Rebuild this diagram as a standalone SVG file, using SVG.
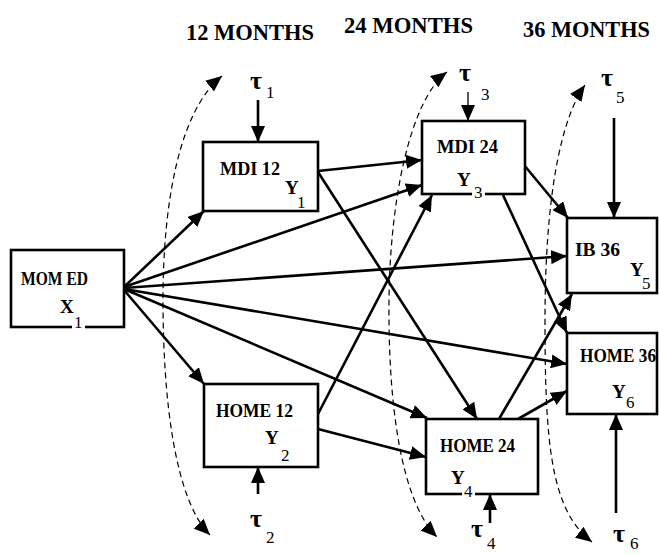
<svg xmlns="http://www.w3.org/2000/svg" width="659" height="555" viewBox="0 0 659 555">
<style>
.box{fill:#fff;stroke:#000;stroke-width:2.6}
.lbl{font-family:"Liberation Serif",serif;font-weight:bold;font-size:18px;fill:#000}
.var{font-family:"Liberation Serif",serif;font-weight:bold;font-size:19px;fill:#000}
.sub{font-family:"Liberation Serif",serif;font-size:17px;fill:#000}
.hd{font-family:"Liberation Serif",serif;font-weight:bold;font-size:23px;fill:#000}
.tau{font-family:"Liberation Serif",serif;font-weight:bold;font-size:26px;fill:#000}
.gap{fill:#fff}
.c{stroke:#000;stroke-width:2.6;fill:none;marker-end:url(#ah)}
.thin{stroke:#000;stroke-width:1.3;fill:none;marker-end:url(#ah)}
.arc{stroke:#000;stroke-width:1.2;fill:none;stroke-dasharray:6 4;marker-start:url(#ah2);marker-end:url(#ah2)}
</style>
<defs>
<marker id="ah" viewBox="0 0 16 14" refX="16" refY="7" markerWidth="16" markerHeight="14" markerUnits="userSpaceOnUse" orient="auto"><path d="M0,0 L16,7 L0,14 z" fill="#000"/></marker>
<marker id="ah2" viewBox="0 0 16 14" refX="16" refY="7" markerWidth="16" markerHeight="14" markerUnits="userSpaceOnUse" orient="auto-start-reverse"><path d="M0,0 L16,7 L0,14 z" fill="#000"/></marker>
</defs>
<rect width="659" height="555" fill="#fff"/>
<g id="headings">
<text class="hd" x="186" y="40" textLength="128" lengthAdjust="spacingAndGlyphs">12 MONTHS</text>
<text class="hd" x="344" y="33" textLength="129" lengthAdjust="spacingAndGlyphs">24 MONTHS</text>
<text class="hd" x="523" y="37" textLength="127" lengthAdjust="spacingAndGlyphs">36 MONTHS</text>
</g>
<g id="connectors">
<path class="arc" d="M222,76 C180,110 163,200 163,300 C163,400 175,500 210,535"/>
<path class="arc" d="M447,72 C410,100 390,200 389,300 C388,400 400,500 437,537"/>
<path class="arc" d="M585,85 C560,120 545,200 545,320 C545,440 550,510 592,542"/>
<line class="c" x1="124" y1="287" x2="204" y2="211"/>
<line class="c" x1="124" y1="287" x2="422" y2="185"/>
<line class="c" x1="124" y1="288" x2="567" y2="256"/>
<line class="c" x1="124" y1="289" x2="567" y2="364"/>
<line class="c" x1="124" y1="289" x2="427" y2="418"/>
<line class="c" x1="124" y1="290" x2="204" y2="384"/>
<line class="c" x1="318" y1="171" x2="422" y2="160"/>
<line class="c" x1="318" y1="172" x2="477" y2="419"/>
<line class="c" x1="318" y1="414" x2="432" y2="195"/>
<line class="c" x1="318" y1="429" x2="426" y2="457"/>
<line class="c" x1="524" y1="165" x2="568" y2="218"/>
<line class="c" x1="503" y1="195" x2="567" y2="333"/>
<line class="c" x1="499" y1="419" x2="572" y2="294"/>
<line class="c" x1="518" y1="419" x2="567" y2="391"/>
<line class="c" x1="258" y1="100" x2="258" y2="142"/>
<line class="c" x1="258" y1="494" x2="258" y2="467"/>
<line class="thin" x1="468" y1="92" x2="468" y2="121"/>
<line class="c" x1="490" y1="523" x2="490" y2="494"/>
<line class="c" x1="614" y1="118" x2="614" y2="218"/>
<line class="c" x1="616" y1="513" x2="616" y2="414"/>
</g>
<g id="momed">
<rect class="box" x="11" y="250" width="113" height="77"/>
<text class="lbl" x="21" y="285" textLength="67" lengthAdjust="spacingAndGlyphs">MOM ED</text>
<text class="var" x="60" y="313">X</text>
<rect class="gap" x="72" y="323" width="13" height="7"/>
<text class="sub" x="74" y="328">1</text>
</g>
<g id="mdi12">
<rect class="box" x="203" y="142" width="115" height="69"/>
<text class="lbl" x="220" y="175" textLength="60" lengthAdjust="spacingAndGlyphs">MDI 12</text>
<text class="var" x="285" y="194">Y</text>
<text class="sub" x="297" y="208">1</text>
</g>
<g id="home12">
<rect class="box" x="204" y="384" width="114" height="83"/>
<text class="lbl" x="216" y="417" textLength="77" lengthAdjust="spacingAndGlyphs">HOME 12</text>
<text class="var" x="265" y="444">Y</text>
<text class="sub" x="281" y="461">2</text>
</g>
<g id="mdi24">
<rect class="box" x="422" y="121" width="103" height="73"/>
<text class="lbl" x="437" y="153" textLength="61" lengthAdjust="spacingAndGlyphs">MDI 24</text>
<text class="var" x="457" y="186">Y</text>
<rect class="gap" x="472" y="190" width="13" height="7"/>
<text class="sub" x="474" y="198">3</text>
</g>
<g id="home24">
<rect class="box" x="426" y="419" width="112" height="75"/>
<text class="lbl" x="440" y="452" textLength="75" lengthAdjust="spacingAndGlyphs">HOME 24</text>
<text class="var" x="451" y="484">Y</text>
<rect class="gap" x="462" y="490" width="13" height="7"/>
<text class="sub" x="464" y="497">4</text>
</g>
<g id="ib36">
<rect class="box" x="567" y="218" width="90" height="75"/>
<text class="lbl" x="575" y="256" textLength="45" lengthAdjust="spacingAndGlyphs">IB 36</text>
<text class="var" x="630" y="276">Y</text>
<text class="sub" x="642" y="289">5</text>
</g>
<g id="home36">
<rect class="box" x="567" y="333" width="90" height="81"/>
<text class="lbl" x="580" y="362" textLength="76" lengthAdjust="spacingAndGlyphs">HOME 36</text>
<text class="var" x="612" y="398">Y</text>
<text class="sub" x="626" y="408">6</text>
</g>
<g id="zeta1"><text class="tau" x="250" y="89">τ</text><text class="sub" x="266" y="98">1</text></g>
<g id="zeta2"><text class="tau" x="250" y="527">τ</text><text class="sub" x="266" y="543">2</text></g>
<g id="zeta3"><text class="tau" x="459" y="81">τ</text><text class="sub" x="481" y="100">3</text></g>
<g id="zeta4"><text class="tau" x="471" y="537">τ</text><text class="sub" x="487" y="549" font-size="16">4</text></g>
<g id="zeta5"><text class="tau" x="601" y="86">τ</text><text class="sub" x="616" y="103">5</text></g>
<g id="zeta6"><text class="tau" x="613" y="542">τ</text><text class="sub" x="630" y="549" font-size="16">6</text></g>
</svg>
